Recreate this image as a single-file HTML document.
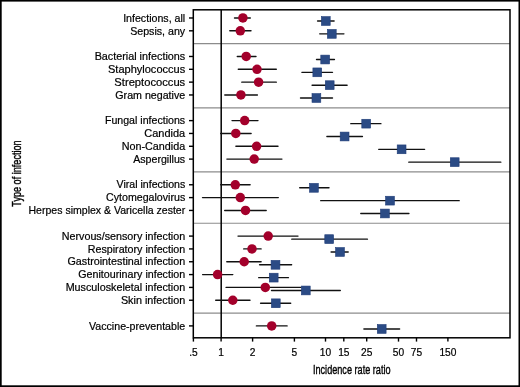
<!DOCTYPE html><html><head><meta charset="utf-8"><style>html,body{margin:0;padding:0;background:#fff;}svg{display:block;will-change:transform;}text{font-family:"Liberation Sans",sans-serif;}</style></head><body>
<svg width="520" height="387" viewBox="0 0 520 387">
<rect x="0" y="0" width="520" height="387" fill="#fff"/>
<line x1="193.3" y1="43.64" x2="510.0" y2="43.64" stroke="#8c8c8c" stroke-width="1.2"/>
<line x1="193.3" y1="107.79" x2="510.0" y2="107.79" stroke="#8c8c8c" stroke-width="1.2"/>
<line x1="193.3" y1="171.94" x2="510.0" y2="171.94" stroke="#8c8c8c" stroke-width="1.2"/>
<line x1="193.3" y1="223.26" x2="510.0" y2="223.26" stroke="#8c8c8c" stroke-width="1.2"/>
<line x1="193.3" y1="313.07" x2="510.0" y2="313.07" stroke="#8c8c8c" stroke-width="1.2"/>
<line x1="221.2" y1="9.8" x2="221.2" y2="337.8" stroke="#000" stroke-width="1.5"/>
<line x1="234.50" y1="17.98" x2="250.30" y2="17.98" stroke="#111" stroke-width="1.4" stroke-linecap="round"/>
<line x1="317.60" y1="21.03" x2="334.10" y2="21.03" stroke="#111" stroke-width="1.4" stroke-linecap="round"/>
<line x1="229.80" y1="30.81" x2="251.00" y2="30.81" stroke="#111" stroke-width="1.4" stroke-linecap="round"/>
<line x1="319.70" y1="33.86" x2="343.90" y2="33.86" stroke="#111" stroke-width="1.4" stroke-linecap="round"/>
<line x1="237.30" y1="56.47" x2="256.00" y2="56.47" stroke="#111" stroke-width="1.4" stroke-linecap="round"/>
<line x1="316.50" y1="59.52" x2="334.40" y2="59.52" stroke="#111" stroke-width="1.4" stroke-linecap="round"/>
<line x1="238.30" y1="69.30" x2="276.30" y2="69.30" stroke="#111" stroke-width="1.4" stroke-linecap="round"/>
<line x1="301.90" y1="72.35" x2="332.50" y2="72.35" stroke="#111" stroke-width="1.4" stroke-linecap="round"/>
<line x1="241.80" y1="82.13" x2="276.30" y2="82.13" stroke="#111" stroke-width="1.4" stroke-linecap="round"/>
<line x1="312.10" y1="85.18" x2="347.10" y2="85.18" stroke="#111" stroke-width="1.4" stroke-linecap="round"/>
<line x1="224.80" y1="94.96" x2="257.40" y2="94.96" stroke="#111" stroke-width="1.4" stroke-linecap="round"/>
<line x1="300.50" y1="98.01" x2="332.50" y2="98.01" stroke="#111" stroke-width="1.4" stroke-linecap="round"/>
<line x1="232.00" y1="120.62" x2="258.00" y2="120.62" stroke="#111" stroke-width="1.4" stroke-linecap="round"/>
<line x1="350.80" y1="123.67" x2="380.90" y2="123.67" stroke="#111" stroke-width="1.4" stroke-linecap="round"/>
<line x1="220.70" y1="133.45" x2="251.10" y2="133.45" stroke="#111" stroke-width="1.4" stroke-linecap="round"/>
<line x1="326.90" y1="136.50" x2="362.40" y2="136.50" stroke="#111" stroke-width="1.4" stroke-linecap="round"/>
<line x1="235.90" y1="146.28" x2="278.00" y2="146.28" stroke="#111" stroke-width="1.4" stroke-linecap="round"/>
<line x1="378.70" y1="149.33" x2="424.60" y2="149.33" stroke="#111" stroke-width="1.4" stroke-linecap="round"/>
<line x1="226.90" y1="159.11" x2="281.90" y2="159.11" stroke="#111" stroke-width="1.4" stroke-linecap="round"/>
<line x1="408.80" y1="162.16" x2="500.80" y2="162.16" stroke="#111" stroke-width="1.4" stroke-linecap="round"/>
<line x1="220.70" y1="184.77" x2="250.10" y2="184.77" stroke="#111" stroke-width="1.4" stroke-linecap="round"/>
<line x1="299.70" y1="187.82" x2="329.00" y2="187.82" stroke="#111" stroke-width="1.4" stroke-linecap="round"/>
<line x1="202.50" y1="197.60" x2="278.30" y2="197.60" stroke="#111" stroke-width="1.4" stroke-linecap="round"/>
<line x1="320.70" y1="200.65" x2="459.20" y2="200.65" stroke="#111" stroke-width="1.4" stroke-linecap="round"/>
<line x1="224.70" y1="210.43" x2="266.20" y2="210.43" stroke="#111" stroke-width="1.4" stroke-linecap="round"/>
<line x1="360.80" y1="213.48" x2="408.90" y2="213.48" stroke="#111" stroke-width="1.4" stroke-linecap="round"/>
<line x1="238.00" y1="236.09" x2="298.00" y2="236.09" stroke="#111" stroke-width="1.4" stroke-linecap="round"/>
<line x1="291.80" y1="239.14" x2="367.40" y2="239.14" stroke="#111" stroke-width="1.4" stroke-linecap="round"/>
<line x1="243.70" y1="248.92" x2="261.10" y2="248.92" stroke="#111" stroke-width="1.4" stroke-linecap="round"/>
<line x1="331.10" y1="251.97" x2="348.20" y2="251.97" stroke="#111" stroke-width="1.4" stroke-linecap="round"/>
<line x1="226.80" y1="261.75" x2="261.10" y2="261.75" stroke="#111" stroke-width="1.4" stroke-linecap="round"/>
<line x1="259.60" y1="264.80" x2="291.60" y2="264.80" stroke="#111" stroke-width="1.4" stroke-linecap="round"/>
<line x1="202.60" y1="274.58" x2="232.80" y2="274.58" stroke="#111" stroke-width="1.4" stroke-linecap="round"/>
<line x1="258.70" y1="277.63" x2="288.40" y2="277.63" stroke="#111" stroke-width="1.4" stroke-linecap="round"/>
<line x1="226.10" y1="287.41" x2="300.90" y2="287.41" stroke="#111" stroke-width="1.4" stroke-linecap="round"/>
<line x1="271.50" y1="290.46" x2="340.30" y2="290.46" stroke="#111" stroke-width="1.4" stroke-linecap="round"/>
<line x1="215.70" y1="300.24" x2="250.00" y2="300.24" stroke="#111" stroke-width="1.4" stroke-linecap="round"/>
<line x1="260.60" y1="303.29" x2="290.70" y2="303.29" stroke="#111" stroke-width="1.4" stroke-linecap="round"/>
<line x1="256.40" y1="325.90" x2="287.10" y2="325.90" stroke="#111" stroke-width="1.4" stroke-linecap="round"/>
<line x1="363.90" y1="328.95" x2="399.60" y2="328.95" stroke="#111" stroke-width="1.4" stroke-linecap="round"/>
<circle cx="242.9" cy="17.98" r="4.75" fill="#a3002b"/>
<rect x="321.40" y="16.63" width="8.8" height="8.8" fill="#2b4b85" stroke="#1f3c78" stroke-width="0.6"/>
<circle cx="240.3" cy="30.81" r="4.75" fill="#a3002b"/>
<rect x="327.40" y="29.46" width="8.8" height="8.8" fill="#2b4b85" stroke="#1f3c78" stroke-width="0.6"/>
<circle cx="246.2" cy="56.47" r="4.75" fill="#a3002b"/>
<rect x="320.80" y="55.12" width="8.8" height="8.8" fill="#2b4b85" stroke="#1f3c78" stroke-width="0.6"/>
<circle cx="257" cy="69.30" r="4.75" fill="#a3002b"/>
<rect x="312.90" y="67.95" width="8.8" height="8.8" fill="#2b4b85" stroke="#1f3c78" stroke-width="0.6"/>
<circle cx="258.6" cy="82.13" r="4.75" fill="#a3002b"/>
<rect x="325.30" y="80.78" width="8.8" height="8.8" fill="#2b4b85" stroke="#1f3c78" stroke-width="0.6"/>
<circle cx="240.9" cy="94.96" r="4.75" fill="#a3002b"/>
<rect x="312.00" y="93.61" width="8.8" height="8.8" fill="#2b4b85" stroke="#1f3c78" stroke-width="0.6"/>
<circle cx="244.7" cy="120.62" r="4.75" fill="#a3002b"/>
<rect x="361.80" y="119.27" width="8.8" height="8.8" fill="#2b4b85" stroke="#1f3c78" stroke-width="0.6"/>
<circle cx="235.8" cy="133.45" r="4.75" fill="#a3002b"/>
<rect x="340.20" y="132.10" width="8.8" height="8.8" fill="#2b4b85" stroke="#1f3c78" stroke-width="0.6"/>
<circle cx="256.6" cy="146.28" r="4.75" fill="#a3002b"/>
<rect x="397.20" y="144.93" width="8.8" height="8.8" fill="#2b4b85" stroke="#1f3c78" stroke-width="0.6"/>
<circle cx="254.2" cy="159.11" r="4.75" fill="#a3002b"/>
<rect x="450.30" y="157.76" width="8.8" height="8.8" fill="#2b4b85" stroke="#1f3c78" stroke-width="0.6"/>
<circle cx="235.3" cy="184.77" r="4.75" fill="#a3002b"/>
<rect x="309.50" y="183.42" width="8.8" height="8.8" fill="#2b4b85" stroke="#1f3c78" stroke-width="0.6"/>
<circle cx="240.3" cy="197.60" r="4.75" fill="#a3002b"/>
<rect x="385.60" y="196.25" width="8.8" height="8.8" fill="#2b4b85" stroke="#1f3c78" stroke-width="0.6"/>
<circle cx="245.5" cy="210.43" r="4.75" fill="#a3002b"/>
<rect x="380.50" y="209.08" width="8.8" height="8.8" fill="#2b4b85" stroke="#1f3c78" stroke-width="0.6"/>
<circle cx="268.2" cy="236.09" r="4.75" fill="#a3002b"/>
<rect x="324.80" y="234.74" width="8.8" height="8.8" fill="#2b4b85" stroke="#1f3c78" stroke-width="0.6"/>
<circle cx="252" cy="248.92" r="4.75" fill="#a3002b"/>
<rect x="335.60" y="247.57" width="8.8" height="8.8" fill="#2b4b85" stroke="#1f3c78" stroke-width="0.6"/>
<circle cx="244.2" cy="261.75" r="4.75" fill="#a3002b"/>
<rect x="271.10" y="260.40" width="8.8" height="8.8" fill="#2b4b85" stroke="#1f3c78" stroke-width="0.6"/>
<circle cx="217.6" cy="274.58" r="4.75" fill="#a3002b"/>
<rect x="269.30" y="273.23" width="8.8" height="8.8" fill="#2b4b85" stroke="#1f3c78" stroke-width="0.6"/>
<circle cx="265.3" cy="287.41" r="4.75" fill="#a3002b"/>
<rect x="301.40" y="286.06" width="8.8" height="8.8" fill="#2b4b85" stroke="#1f3c78" stroke-width="0.6"/>
<circle cx="232.8" cy="300.24" r="4.75" fill="#a3002b"/>
<rect x="271.40" y="298.89" width="8.8" height="8.8" fill="#2b4b85" stroke="#1f3c78" stroke-width="0.6"/>
<circle cx="271.7" cy="325.90" r="4.75" fill="#a3002b"/>
<rect x="377.30" y="324.55" width="8.8" height="8.8" fill="#2b4b85" stroke="#1f3c78" stroke-width="0.6"/>
<rect x="193.3" y="9.8" width="316.70" height="328.00" fill="none" stroke="#000" stroke-width="1.5"/>
<line x1="189.0" y1="17.98" x2="193.3" y2="17.98" stroke="#000" stroke-width="1.4"/>
<text x="185.2" y="21.68" font-size="10.7" text-anchor="end" textLength="62.06" lengthAdjust="spacingAndGlyphs" fill="#000" stroke="#000" stroke-width="0.2">Infections, all</text>
<line x1="189.0" y1="30.81" x2="193.3" y2="30.81" stroke="#000" stroke-width="1.4"/>
<text x="185.2" y="34.51" font-size="10.7" text-anchor="end" textLength="55.05" lengthAdjust="spacingAndGlyphs" fill="#000" stroke="#000" stroke-width="0.2">Sepsis, any</text>
<line x1="189.0" y1="56.47" x2="193.3" y2="56.47" stroke="#000" stroke-width="1.4"/>
<text x="185.2" y="60.17" font-size="10.7" text-anchor="end" textLength="90.54" lengthAdjust="spacingAndGlyphs" fill="#000" stroke="#000" stroke-width="0.2">Bacterial infections</text>
<line x1="189.0" y1="69.30" x2="193.3" y2="69.30" stroke="#000" stroke-width="1.4"/>
<text x="185.2" y="73.00" font-size="10.7" text-anchor="end" textLength="77.22" lengthAdjust="spacingAndGlyphs" fill="#000" stroke="#000" stroke-width="0.2">Staphylococcus</text>
<line x1="189.0" y1="82.13" x2="193.3" y2="82.13" stroke="#000" stroke-width="1.4"/>
<text x="185.2" y="85.83" font-size="10.7" text-anchor="end" textLength="70.84" lengthAdjust="spacingAndGlyphs" fill="#000" stroke="#000" stroke-width="0.2">Streptococcus</text>
<line x1="189.0" y1="94.96" x2="193.3" y2="94.96" stroke="#000" stroke-width="1.4"/>
<text x="185.2" y="98.66" font-size="10.7" text-anchor="end" textLength="69.88" lengthAdjust="spacingAndGlyphs" fill="#000" stroke="#000" stroke-width="0.2">Gram negative</text>
<line x1="189.0" y1="120.62" x2="193.3" y2="120.62" stroke="#000" stroke-width="1.4"/>
<text x="185.2" y="124.32" font-size="10.7" text-anchor="end" textLength="80.27" lengthAdjust="spacingAndGlyphs" fill="#000" stroke="#000" stroke-width="0.2">Fungal infections</text>
<line x1="189.0" y1="133.45" x2="193.3" y2="133.45" stroke="#000" stroke-width="1.4"/>
<text x="185.2" y="137.15" font-size="10.7" text-anchor="end" textLength="40.9" lengthAdjust="spacingAndGlyphs" fill="#000" stroke="#000" stroke-width="0.2">Candida</text>
<line x1="189.0" y1="146.28" x2="193.3" y2="146.28" stroke="#000" stroke-width="1.4"/>
<text x="185.2" y="149.98" font-size="10.7" text-anchor="end" textLength="63.51" lengthAdjust="spacingAndGlyphs" fill="#000" stroke="#000" stroke-width="0.2">Non-Candida</text>
<line x1="189.0" y1="159.11" x2="193.3" y2="159.11" stroke="#000" stroke-width="1.4"/>
<text x="185.2" y="162.81" font-size="10.7" text-anchor="end" textLength="52.03" lengthAdjust="spacingAndGlyphs" fill="#000" stroke="#000" stroke-width="0.2">Aspergillus</text>
<line x1="189.0" y1="184.77" x2="193.3" y2="184.77" stroke="#000" stroke-width="1.4"/>
<text x="185.2" y="188.47" font-size="10.7" text-anchor="end" textLength="68.62" lengthAdjust="spacingAndGlyphs" fill="#000" stroke="#000" stroke-width="0.2">Viral infections</text>
<line x1="189.0" y1="197.60" x2="193.3" y2="197.60" stroke="#000" stroke-width="1.4"/>
<text x="185.2" y="201.30" font-size="10.7" text-anchor="end" textLength="79.16" lengthAdjust="spacingAndGlyphs" fill="#000" stroke="#000" stroke-width="0.2">Cytomegalovirus</text>
<line x1="189.0" y1="210.43" x2="193.3" y2="210.43" stroke="#000" stroke-width="1.4"/>
<text x="185.2" y="214.13" font-size="10.7" text-anchor="end" textLength="156.68" lengthAdjust="spacingAndGlyphs" fill="#000" stroke="#000" stroke-width="0.2">Herpes simplex &amp; Varicella zester</text>
<line x1="189.0" y1="236.09" x2="193.3" y2="236.09" stroke="#000" stroke-width="1.4"/>
<text x="185.2" y="239.79" font-size="10.7" text-anchor="end" textLength="123.39" lengthAdjust="spacingAndGlyphs" fill="#000" stroke="#000" stroke-width="0.2">Nervous/sensory infection</text>
<line x1="189.0" y1="248.92" x2="193.3" y2="248.92" stroke="#000" stroke-width="1.4"/>
<text x="185.2" y="252.62" font-size="10.7" text-anchor="end" textLength="97.43" lengthAdjust="spacingAndGlyphs" fill="#000" stroke="#000" stroke-width="0.2">Respiratory infection</text>
<line x1="189.0" y1="261.75" x2="193.3" y2="261.75" stroke="#000" stroke-width="1.4"/>
<text x="185.2" y="265.45" font-size="10.7" text-anchor="end" textLength="117.74" lengthAdjust="spacingAndGlyphs" fill="#000" stroke="#000" stroke-width="0.2">Gastrointestinal infection</text>
<line x1="189.0" y1="274.58" x2="193.3" y2="274.58" stroke="#000" stroke-width="1.4"/>
<text x="185.2" y="278.28" font-size="10.7" text-anchor="end" textLength="106.92" lengthAdjust="spacingAndGlyphs" fill="#000" stroke="#000" stroke-width="0.2">Genitourinary infection</text>
<line x1="189.0" y1="287.41" x2="193.3" y2="287.41" stroke="#000" stroke-width="1.4"/>
<text x="185.2" y="291.11" font-size="10.7" text-anchor="end" textLength="119.55" lengthAdjust="spacingAndGlyphs" fill="#000" stroke="#000" stroke-width="0.2">Musculoskeletal infection</text>
<line x1="189.0" y1="300.24" x2="193.3" y2="300.24" stroke="#000" stroke-width="1.4"/>
<text x="185.2" y="303.94" font-size="10.7" text-anchor="end" textLength="64.3" lengthAdjust="spacingAndGlyphs" fill="#000" stroke="#000" stroke-width="0.2">Skin infection</text>
<line x1="189.0" y1="325.90" x2="193.3" y2="325.90" stroke="#000" stroke-width="1.4"/>
<text x="185.2" y="329.60" font-size="10.7" text-anchor="end" textLength="96.18" lengthAdjust="spacingAndGlyphs" fill="#000" stroke="#000" stroke-width="0.2">Vaccine-preventable</text>
<line x1="193.4" y1="337.8" x2="193.4" y2="341.6" stroke="#000" stroke-width="1.4"/>
<text x="193.4" y="355.6" font-size="10.2" text-anchor="middle" fill="#000" stroke="#000" stroke-width="0.2">.5</text>
<line x1="221.1" y1="337.8" x2="221.1" y2="341.6" stroke="#000" stroke-width="1.4"/>
<text x="221.1" y="355.6" font-size="10.2" text-anchor="middle" fill="#000" stroke="#000" stroke-width="0.2">1</text>
<line x1="252.6" y1="337.8" x2="252.6" y2="341.6" stroke="#000" stroke-width="1.4"/>
<text x="252.6" y="355.6" font-size="10.2" text-anchor="middle" fill="#000" stroke="#000" stroke-width="0.2">2</text>
<line x1="294.4" y1="337.8" x2="294.4" y2="341.6" stroke="#000" stroke-width="1.4"/>
<text x="294.4" y="355.6" font-size="10.2" text-anchor="middle" fill="#000" stroke="#000" stroke-width="0.2">5</text>
<line x1="325.5" y1="337.8" x2="325.5" y2="341.6" stroke="#000" stroke-width="1.4"/>
<text x="325.5" y="355.6" font-size="10.2" text-anchor="middle" fill="#000" stroke="#000" stroke-width="0.2">10</text>
<line x1="343.8" y1="337.8" x2="343.8" y2="341.6" stroke="#000" stroke-width="1.4"/>
<text x="343.8" y="355.6" font-size="10.2" text-anchor="middle" fill="#000" stroke="#000" stroke-width="0.2">15</text>
<line x1="366.7" y1="337.8" x2="366.7" y2="341.6" stroke="#000" stroke-width="1.4"/>
<text x="366.7" y="355.6" font-size="10.2" text-anchor="middle" fill="#000" stroke="#000" stroke-width="0.2">25</text>
<line x1="398.5" y1="337.8" x2="398.5" y2="341.6" stroke="#000" stroke-width="1.4"/>
<text x="398.5" y="355.6" font-size="10.2" text-anchor="middle" fill="#000" stroke="#000" stroke-width="0.2">50</text>
<line x1="416.5" y1="337.8" x2="416.5" y2="341.6" stroke="#000" stroke-width="1.4"/>
<text x="416.5" y="355.6" font-size="10.2" text-anchor="middle" fill="#000" stroke="#000" stroke-width="0.2">75</text>
<line x1="447.9" y1="337.8" x2="447.9" y2="341.6" stroke="#000" stroke-width="1.4"/>
<text x="447.9" y="355.6" font-size="10.2" text-anchor="middle" fill="#000" stroke="#000" stroke-width="0.2">150</text>
<text x="351.75" y="373.8" font-size="13.7" text-anchor="middle" textLength="77.6" lengthAdjust="spacingAndGlyphs" fill="#000" stroke="#000" stroke-width="0.4">Incidence rate ratio</text>
<text transform="translate(20.8,173.5) rotate(-90)" x="0" y="0" font-size="13.7" text-anchor="middle" textLength="66.3" lengthAdjust="spacingAndGlyphs" fill="#000" stroke="#000" stroke-width="0.4">Type of infection</text>
<rect x="0" y="0" width="520" height="1.6" fill="#000"/>
<rect x="0" y="0" width="1.7" height="387" fill="#000"/>
<rect x="518.5" y="0" width="1.5" height="387" fill="#000"/>
<rect x="0" y="385.3" width="520" height="1.7" fill="#000"/>
</svg></body></html>
